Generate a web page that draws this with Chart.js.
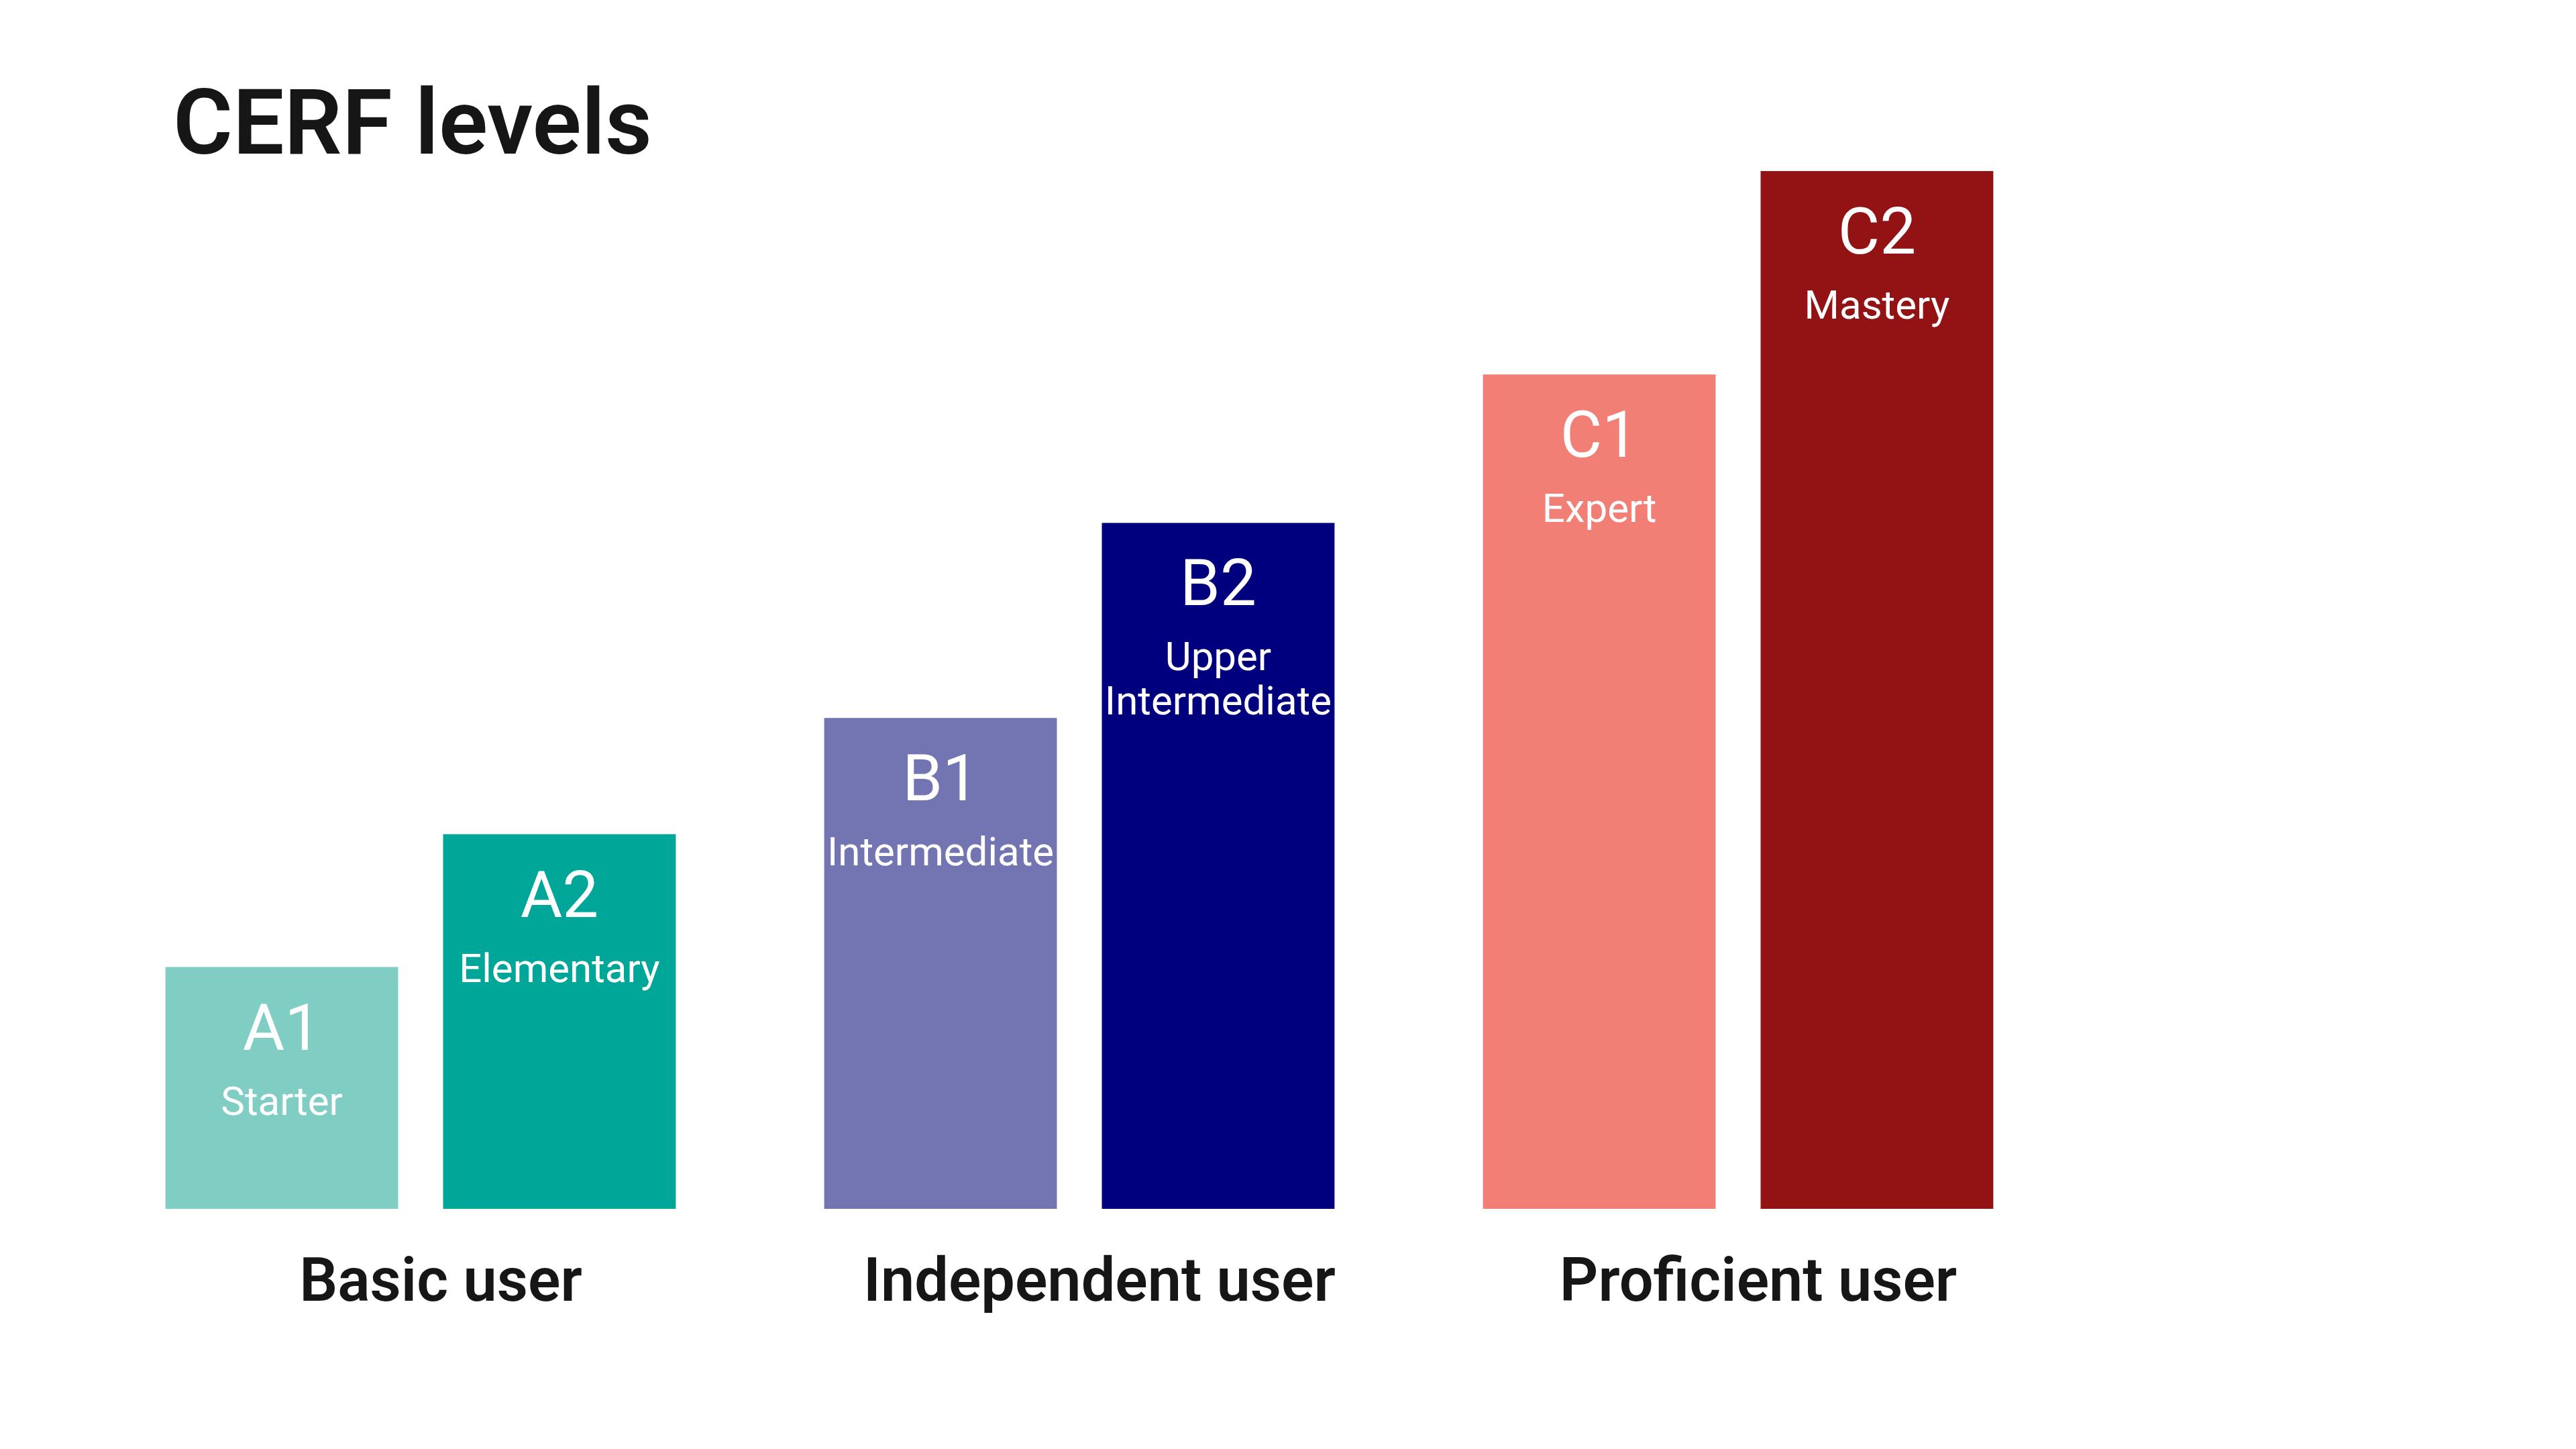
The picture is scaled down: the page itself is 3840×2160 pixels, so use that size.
<!DOCTYPE html>
<html lang="en">
<head>
    <meta charset="UTF-8">
    <title>CERF levels</title>
    <script src="https://cdn.jsdelivr.net/npm/chart.js"></script>
    <style>
        html, body {
            margin: 0;
            padding: 0;
            background: #fff;
        }
        #cerfChart {
            display: block;
        }
    </style>
</head>
<body>
    <canvas id="cerfChart" width="3840" height="2160"></canvas>
    <script>
        // data (C2 = 100)
        const groups = ['Basic user', 'Independent user', 'Proficient user'];

        const lowerCodes = ['A1', 'B1', 'C1'];
        const lowerNames = [['Starter'], ['Intermediate'], ['Expert']];
        const lowerValues = [23.3, 47.3, 80.4];
        const lowerColors = ['#80cdc4', '#7375b2', '#f27f75'];

        const upperCodes = ['A2', 'B2', 'C2'];
        const upperNames = [['Elementary'], ['Upper', 'Intermediate'], ['Mastery']];
        const upperValues = [36.1, 66.1, 100];
        const upperColors = ['#00a698', '#00007f', '#931315'];

        const fontFamily = 'Roboto, "Noto Sans", sans-serif';

        // draws the level code and name inside each bar
        const barLabels = {
            id: 'barLabels',
            afterDatasetsDraw(chart) {
                const ctx = chart.ctx;
                ctx.save();
                ctx.fillStyle = '#ffffff';
                ctx.textAlign = 'center';
                ctx.textBaseline = 'middle';
                chart.data.datasets.forEach((ds, di) => {
                    const meta = chart.getDatasetMeta(di);
                    meta.data.forEach((bar, i) => {
                        ctx.font = '400 96px ' + fontFamily;
                        ctx.fillText(ds.codes[i], bar.x, bar.y + 99);
                        ctx.font = '400 60px ' + fontFamily;
                        ds.names[i].forEach((line, li) => {
                            ctx.fillText(line, bar.x, bar.y + 205 + li * 66);
                        });
                    });
                });
                ctx.restore();
            }
        };

        const titleText = {
            id: 'titleText',
            afterDraw(chart) {
                const ctx = chart.ctx;
                ctx.save();
                ctx.fillStyle = '#161616';
                ctx.textAlign = 'left';
                ctx.textBaseline = 'alphabetic';
                ctx.font = '600 136px ' + fontFamily;
                ctx.fillText('CERF levels', 258, 229);
                ctx.restore();
            }
        };

        const chart = new Chart(document.getElementById('cerfChart'), {
            type: 'bar',
            data: {
                labels: groups,
                datasets: [
                    {
                        data: lowerValues,
                        codes: lowerCodes,
                        names: lowerNames,
                        backgroundColor: lowerColors,
                        barPercentage: 0.838,
                        categoryPercentage: 0.843
                    },
                    {
                        data: upperValues,
                        codes: upperCodes,
                        names: upperNames,
                        backgroundColor: upperColors,
                        barPercentage: 0.838,
                        categoryPercentage: 0.843
                    }
                ]
            },
            options: {
                responsive: false,
                animation: false,
                devicePixelRatio: 1,
                layout: {
                    padding: { top: 255, left: 136, right: 758, bottom: 138 }
                },
                plugins: {
                    legend: { display: false },
                    tooltip: { enabled: false }
                },
                scales: {
                    x: {
                        grid: { display: false },
                        border: { display: false },
                        ticks: {
                            color: '#161616',
                            padding: 52,
                            labelOffset: 30,
                            font: { family: fontFamily, size: 90, weight: '600' }
                        }
                    },
                    y: {
                        display: false,
                        min: 0,
                        max: 100
                    }
                }
            },
            plugins: [barLabels, titleText]
        });
    </script>
</body>
</html>
